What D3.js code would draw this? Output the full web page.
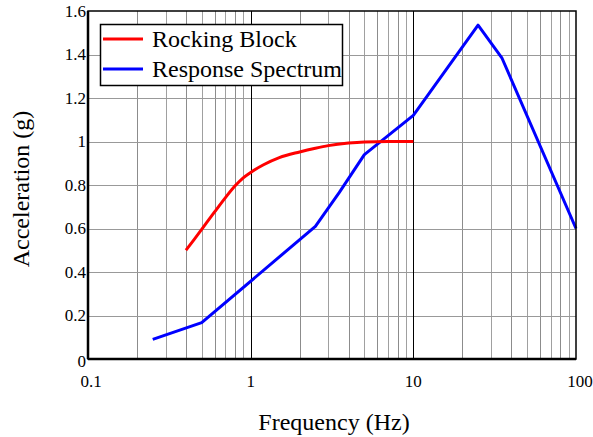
<!DOCTYPE html>
<html>
<head>
<meta charset="utf-8">
<script src="https://cdn.jsdelivr.net/npm/d3@7"></script>
<style>
  body { margin: 0; background: #fff; }
  svg { display: block; }
</style>
</head>
<body>
<div id="chart"></div>
<script>
//////////////////////
//  main constants  //
//////////////////////
const WIDTH = 593;
const HEIGHT = 437;
const MARGIN = { TOP: 11, BOTTOM: 78, LEFT: 88, RIGHT: 17 };
const widthPlot = WIDTH - MARGIN.LEFT - MARGIN.RIGHT;
const heightPlot = HEIGHT - MARGIN.TOP - MARGIN.BOTTOM;
const FONT = "Liberation Serif";

////////////
//  data  //
////////////
const rockFreq = [0.4, 0.45, 0.5, 0.6, 0.7, 0.8, 0.9, 1, 1.2, 1.5, 2, 2.5, 3, 4, 5, 7, 10];
const rockAcc  = [0.5, 0.55, 0.596, 0.676, 0.742, 0.795, 0.833, 0.858, 0.893, 0.926, 0.952, 0.969, 0.981, 0.993, 0.998, 1.0, 1.0];

const specFreq = [0.25, 0.5, 2.5, 3.5, 5, 10, 25, 35, 100];
const specAcc  = [0.09, 0.167, 0.61, 0.765, 0.94, 1.12, 1.535, 1.385, 0.6];

const xTicks = [0.1, 1, 10, 100];
const xTickLabels = ["0.1", "1", "10", "100"];
const yTicks = [0, 0.2, 0.4, 0.6, 0.8, 1, 1.2, 1.4, 1.6];
const yTickLabels = ["0", "0.2", "0.4", "0.6", "0.8", "1", "1.2", "1.4", "1.6"];

const seriesNames = ["Rocking Block", "Response Spectrum"];
const seriesColors = ["#ff0000", "#0000ff"];

//////////////
//  scales  //
//////////////
const x = d3.scaleLog().domain([0.1, 100]).range([0, widthPlot]);
const y = d3.scaleLinear().domain([0, 1.6]).range([heightPlot, 0]);

const svg = d3.select("#chart").append("svg")
    .attr("width", WIDTH)
    .attr("height", HEIGHT);

const g = svg.append("g")
    .attr("transform", `translate(${MARGIN.LEFT}, ${MARGIN.TOP})`);

////////////
//  grid  //
////////////
const minorX = [];
[0.1, 1, 10].forEach(dec => {
    for (let k = 2; k <= 9; k++) minorX.push(dec * k);
});

g.append("g").selectAll("line")
    .data(minorX)
    .join("line")
    .attr("x1", d => Math.round(x(d)) + 0.5)
    .attr("x2", d => Math.round(x(d)) + 0.5)
    .attr("y1", 0)
    .attr("y2", heightPlot)
    .attr("stroke", (d, i) => i % 2 ? "#a0a0a0" : "#8c8c8c")
    .attr("stroke-width", 1);

g.append("g").selectAll("line")
    .data(yTicks.slice(1, -1))
    .join("line")
    .attr("x1", 0)
    .attr("x2", widthPlot)
    .attr("y1", d => Math.round(y(d)) + 0.5)
    .attr("y2", d => Math.round(y(d)) + 0.5)
    .attr("stroke", "#999")
    .attr("stroke-width", 1);

g.append("g").selectAll("line")
    .data([1, 10])
    .join("line")
    .attr("x1", d => Math.round(x(d)) + 0.5)
    .attr("x2", d => Math.round(x(d)) + 0.5)
    .attr("y1", 0)
    .attr("y2", heightPlot)
    .attr("stroke", "#000")
    .attr("stroke-width", 1);

//////////////
//  series  //
//////////////
const line = d3.line()
    .x(d => x(d[0]))
    .y(d => y(d[1]));

const seriesData = [
    d3.zip(rockFreq, rockAcc),
    d3.zip(specFreq, specAcc)
];

g.append("path")
    .datum(seriesData[1])
    .attr("d", line)
    .attr("fill", "none")
    .attr("stroke", seriesColors[1])
    .attr("stroke-width", 3)
    .attr("stroke-linejoin", "round");

g.append("path")
    .datum(seriesData[0])
    .attr("d", line.curve(d3.curveMonotoneX))
    .attr("fill", "none")
    .attr("stroke", seriesColors[0])
    .attr("stroke-width", 3)
    .attr("stroke-linejoin", "round");

/////////////////////
//  frame & ticks  //
/////////////////////
g.append("rect")
    .attr("x", 0)
    .attr("y", 0)
    .attr("width", widthPlot)
    .attr("height", heightPlot)
    .attr("fill", "none")
    .attr("stroke", "#000")
    .attr("stroke-width", 1.5);

g.append("line")
    .attr("x1", 0).attr("x2", 0)
    .attr("y1", 0).attr("y2", heightPlot)
    .attr("stroke", "#000").attr("stroke-width", 2.5);
g.append("line")
    .attr("x1", 0).attr("x2", widthPlot)
    .attr("y1", heightPlot).attr("y2", heightPlot)
    .attr("stroke", "#000").attr("stroke-width", 2.5);

g.append("g").selectAll("text")
    .data(yTicks)
    .join("text")
    .attr("x", -2)
    .attr("y", d => y(d))
    .attr("dy", (d, i) => i === 0 ? "0.45em" : "0.35em")
    .attr("text-anchor", "end")
    .attr("font-family", FONT)
    .attr("font-size", 17)
    .text((d, i) => yTickLabels[i]);

g.append("g").selectAll("text")
    .data(xTicks)
    .join("text")
    .attr("x", (d, i) => x(d) + (i === 0 ? 3 : (i === 3 ? 4 : 0)))
    .attr("y", heightPlot + 28)
    .attr("text-anchor", "middle")
    .attr("font-family", FONT)
    .attr("font-size", 17)
    .text((d, i) => xTickLabels[i]);

///////////////////
//  axis titles  //
///////////////////
svg.append("text")
    .attr("x", 334)
    .attr("y", 430)
    .attr("text-anchor", "middle")
    .attr("font-family", FONT)
    .attr("font-size", 24)
    .text("Frequency (Hz)");

svg.append("text")
    .attr("transform", "translate(29, 189) rotate(-90)")
    .attr("text-anchor", "middle")
    .attr("font-family", FONT)
    .attr("font-size", 24)
    .text("Acceleration (g)");

//////////////
//  legend  //
//////////////
const legend = svg.append("g");
legend.append("rect")
    .attr("x", 100.5)
    .attr("y", 24.5)
    .attr("width", 242)
    .attr("height", 61)
    .attr("fill", "#fff")
    .attr("stroke", "#000")
    .attr("stroke-width", 1.5);

seriesNames.forEach((name, i) => {
    const ly = 39 + i * 30;
    legend.append("line")
        .attr("x1", 103).attr("x2", 143)
        .attr("y1", ly).attr("y2", ly)
        .attr("stroke", seriesColors[i])
        .attr("stroke-width", 3);
    legend.append("text")
        .attr("x", 152)
        .attr("y", ly + 8)
        .attr("font-family", FONT)
        .attr("font-size", 24)
        .text(name);
});
</script>
</body>
</html>
